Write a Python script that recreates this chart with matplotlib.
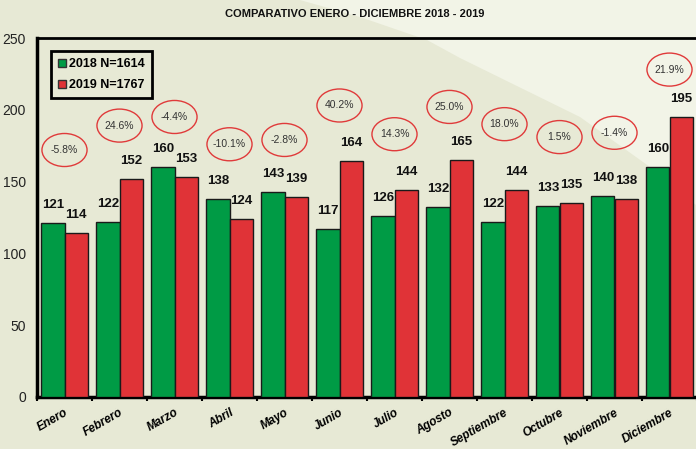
import numpy as np
import matplotlib
matplotlib.use("Agg")
import matplotlib.pyplot as plt
from matplotlib.patches import Ellipse, Polygon
from matplotlib.lines import Line2D

plt.rcParams['font.family'] = ['Liberation Sans', 'DejaVu Sans']

# data
meses = ['Enero', 'Febrero', 'Marzo', 'Abril', 'Mayo', 'Junio', 'Julio',
         'Agosto', 'Septiembre', 'Octubre', 'Noviembre', 'Diciembre']
v2018 = [121, 122, 160, 138, 143, 117, 126, 132, 122, 133, 140, 160]
v2019 = [114, 152, 153, 124, 139, 164, 144, 165, 144, 135, 138, 195]
variacion = ['-5.8%', '24.6%', '-4.4%', '-10.1%', '-2.8%', '40.2%', '14.3%',
             '25.0%', '18.0%', '1.5%', '-1.4%', '21.9%']
# height (data units) of the red ellipses with the variation
elipse_y = [172, 189, 195, 176, 179, 203, 183, 202, 190, 181, 184, 228]
leyenda = ['2018 N=1614', '2019 N=1767']
titulo = 'COMPARATIVO ENERO - DICIEMBRE 2018 - 2019'

verde = '#009b45'
rojo = '#e03337'
fondo = '#e7e9d5'
claro = '#f2f4e7'

W, H = 696, 449
fig = plt.figure(figsize=(W / 100, H / 100), dpi=100)
fig.patch.set_facecolor(fondo)

# lighter diagonal region top-right, on a background axes
bg = fig.add_axes([0, 0, 1, 1], zorder=0)
bg.set_xlim(0, W)
bg.set_ylim(H, 0)
bg.axis('off')
pts = [(300, 0), (360, 17), (427, 40), (460, 58), (580, 117), (650, 167),
       (696, 205), (696, 0)]
bg.add_patch(Polygon(pts, closed=True, facecolor=claro, edgecolor='none'))

ax = fig.add_axes([37 / W, 52 / H, 660 / W, 359 / H], zorder=2)
ax.set_facecolor('none')

x = np.arange(len(meses))
w = 0.42
ax.bar(x - w / 2, v2018, w, color=verde, edgecolor='#1a1a1a', linewidth=1, zorder=3)
ax.bar(x + w / 2, v2019, w, color=rojo, edgecolor='#1a1a1a', linewidth=1, zorder=3)

for i in range(len(meses)):
    ax.annotate(str(v2018[i]), (x[i] - w / 2, v2018[i]), xytext=(0, 13),
                textcoords='offset points', ha='center', va='center',
                fontsize=9.5, fontweight='bold', color='#111111')
    ax.annotate(str(v2019[i]), (x[i] + w / 2, v2019[i]), xytext=(0, 13),
                textcoords='offset points', ha='center', va='center',
                fontsize=9.5, fontweight='bold', color='#111111')
    ax.add_patch(Ellipse((x[i], elipse_y[i]), 0.82, 23, facecolor='none',
                         edgecolor='#e03a3a', linewidth=1, zorder=4))
    ax.text(x[i], elipse_y[i], variacion[i], ha='center', va='center',
            fontsize=7.5, color='#333333', zorder=5)

ax.set_xlim(-0.5, len(meses) - 0.5)
ax.set_ylim(0, 250)
ax.set_yticks([0, 50, 100, 150, 200, 250])
ax.tick_params(axis='y', length=0, pad=8, labelsize=10, labelcolor='#222222')

ax.set_xticks(x)
ax.set_xticklabels(meses, rotation=30, ha='right', rotation_mode='anchor',
                   fontsize=8.5, fontweight='bold', fontstyle='italic')
ax.tick_params(axis='x', which='major', length=0, pad=7)
ax.set_xticks(np.arange(-0.5, len(meses), 1), minor=True)
ax.tick_params(axis='x', which='minor', length=3, width=1.5, direction='out')

for s in ['left', 'bottom']:
    ax.spines[s].set_linewidth(2.5)
ax.spines['top'].set_linewidth(2)
ax.spines['right'].set_visible(False)

handles = [Line2D([], [], marker='s', linestyle='none', markersize=5.5,
                  markerfacecolor=c, markeredgecolor='#333333')
           for c in (verde, rojo)]
leg = ax.legend(handles, leyenda, loc='upper left', bbox_to_anchor=(0.012, 0.982),
                fancybox=False, framealpha=1, facecolor='none', edgecolor='black',
                prop={'weight': 'bold', 'size': 9}, handlelength=0.6,
                handletextpad=0.2, labelspacing=0.7, borderpad=0.6)
leg.get_frame().set_linewidth(2)

fig.text(355 / W, 1 - 14 / H, titulo, ha='center', va='center',
         fontsize=8, fontweight='bold', color='#111111')

fig.savefig('out.png', dpi=100, facecolor=fig.get_facecolor())
